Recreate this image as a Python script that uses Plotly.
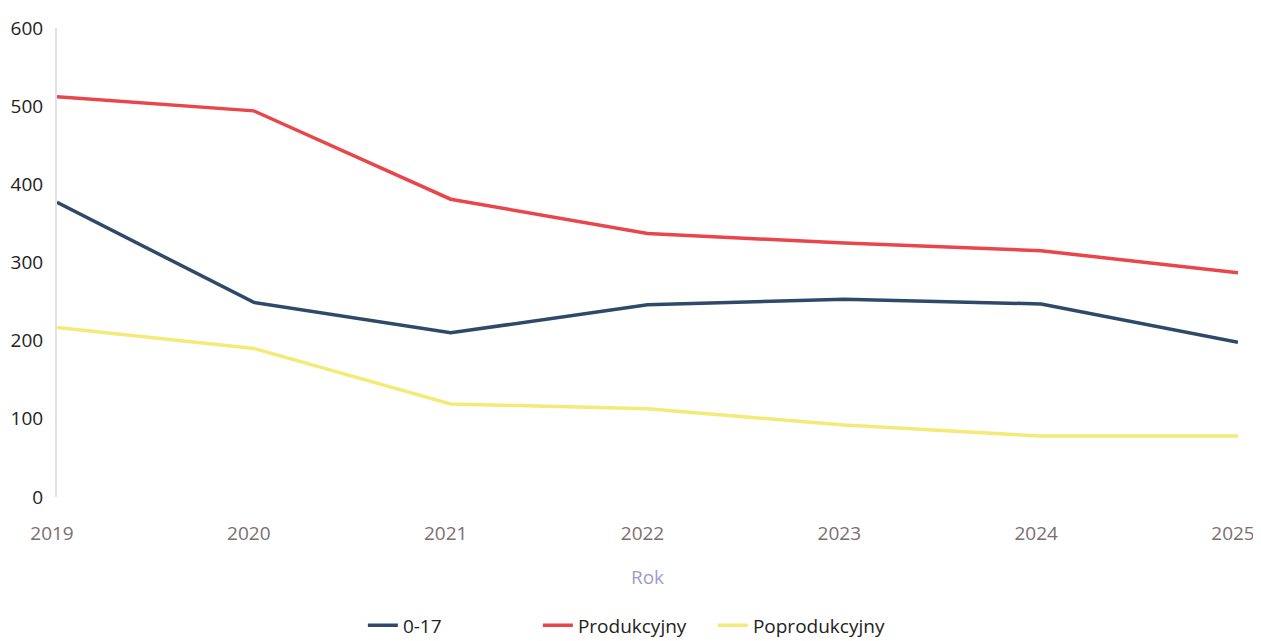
import plotly.graph_objects as go

# values (age groups per year)
years = [2019, 2020, 2021, 2022, 2023, 2024, 2025]
children = [377, 249, 210, 246, 253, 247, 198]          # 0-17
working = [512, 494, 381, 337, 325, 315, 287]           # Produkcyjny
retired = [217, 190, 119, 113, 92, 78, 78]              # Poprodukcyjny

series = [
    ('0-17', children, '#2f4a68'),
    ('Produkcyjny', working, '#e8464a'),
    ('Poprodukcyjny', retired, '#f3ea78'),
]

fig = go.Figure()
for name, vals, color in series:
    fig.add_trace(go.Scatter(
        x=years,
        y=vals,
        mode='lines',
        name=name,
        line=dict(color=color, width=3.5),
    ))

fig.update_layout(
    width=1261,
    height=641,
    paper_bgcolor='white',
    plot_bgcolor='white',
    font=dict(family='Open Sans', size=19, color='#222222'),
    margin=dict(l=49, r=31, t=20, b=152, autoexpand=False),
    showlegend=True,
    legend=dict(
        orientation='h',
        x=0.259,
        xanchor='left',
        yref='container',
        y=0.037,
        yanchor='middle',
        entrywidth=130,
        font=dict(size=19, color='#222222'),
    ),
    xaxis=dict(
        range=[2019, 2025],
        tickvals=years,
        showgrid=False,
        zeroline=False,
        showline=False,
        automargin=False,
        tickfont=dict(color='#7d6e70', size=19),
        ticklabelstandoff=23,
        ticklabelshift=-5,
        title=dict(text='Rok', font=dict(color='#9c9ccc', size=19), standoff=25),
    ),
    yaxis=dict(
        range=[0, 600],
        tickvals=[0, 100, 200, 300, 400, 500, 600],
        showgrid=False,
        zeroline=False,
        showline=True,
        automargin=False,
        linecolor='#e2e2e6',
        linewidth=2,
        tickfont=dict(color='#222222', size=19),
        ticklabelstandoff=8,
    ),
)

fig.write_html("out.html")
